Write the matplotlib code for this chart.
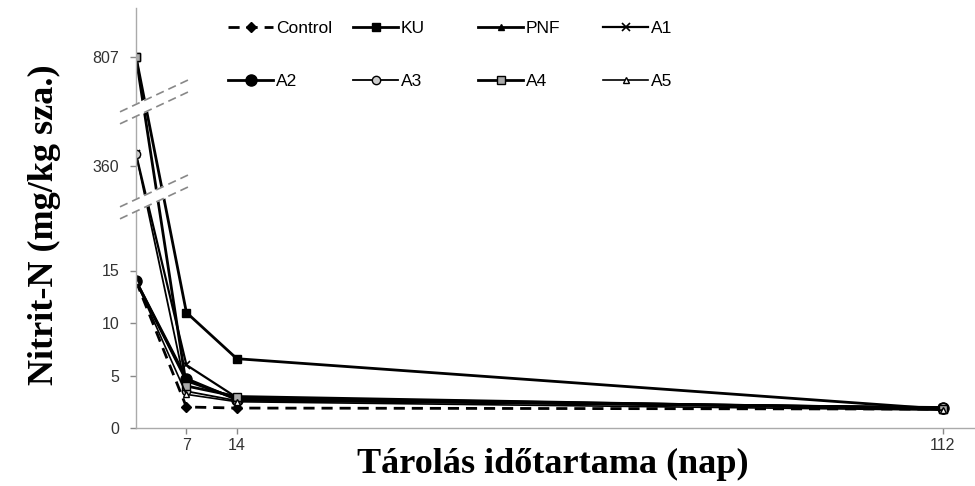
import numpy as np
import matplotlib
matplotlib.use("Agg")
import matplotlib.pyplot as plt
from matplotlib.legend import Legend

# tarolasi napok es nitrit-N ertekek (mg/kg sza.)
napok = [0, 7, 14, 112]
control = [14.0, 2.0, 1.9, 1.8]
ku = [807, 11.0, 6.6, 1.8]
pnf = [14.0, 4.5, 2.8, 1.9]
a1 = [380, 6.0, 2.9, 1.9]
a2 = [14.0, 4.7, 2.7, 1.9]
a3 = [380, 3.5, 2.6, 2.0]
a4 = [807, 4.0, 3.0, 1.8]
a5 = [14.0, 3.2, 2.5, 1.7]

x_ticks = [7, 14, 112]
y_ticks = [0, 5, 10, 15, 360, 807]

# torott y tengely: szakaszonkent linearis skala
knot_val = np.array([0, 20, 330, 420, 780, 830, 2000])
knot_pos = np.array([0, 210, 244, 298, 344, 394, 1564])

def fwd(v):
	return np.interp(v, knot_val, knot_pos)

def inv(p):
	return np.interp(p, knot_pos, knot_val)

sans = ['Liberation Sans', 'DejaVu Sans']
serif = ['Liberation Serif', 'DejaVu Serif']

fig = plt.figure(figsize=(9.75, 4.86), dpi=100)
ax = fig.add_axes([136/975, 58/486, 839/975, 420/486])
ax.set_yscale('function', functions=(fwd, inv))

lw = 2.0
series = [
	("Control", control, dict(ls=(0, (4, 2.5)), marker='D', ms=5, mfc='black', lw=lw)),
	("KU", ku, dict(ls='-', marker='s', ms=6, mfc='black', lw=lw)),
	("PNF", pnf, dict(ls='-', marker='^', ms=5, mfc='black', lw=lw)),
	("A1", a1, dict(ls='-', marker='x', ms=6, mew=1.2, lw=1.6)),
	("A2", a2, dict(ls='-', marker='o', ms=8, mfc='black', lw=lw)),
	("A3", a3, dict(ls='-', marker='o', ms=6, mfc='#cccccc', lw=1.3)),
	("A4", a4, dict(ls='-', marker='s', ms=6, mfc='#aaaaaa', lw=lw)),
	("A5", a5, dict(ls='-', marker='^', ms=5, mfc='white', lw=1.2)),
]

handles = []
for name, vals, st in series:
	h, = ax.plot(napok, vals, color='black', mec='black', label=name, **st)
	handles.append(h)

ax.set_xlim(0, 116.5)
ax.set_ylim(0, inv(420))
ax.set_xticks(x_ticks)
ax.set_yticks(y_ticks)
ax.tick_params(axis='both', colors='#888888', labelcolor='#333333', labelsize=11.5, length=4, width=1)
ax.tick_params(axis='x', pad=3)
ax.tick_params(axis='y', pad=8)
for lab in ax.get_xticklabels() + ax.get_yticklabels():
	lab.set_family(sans)
for pos in ['top', 'right']:
	ax.spines[pos].set_visible(False)
for pos in ['left', 'bottom']:
	ax.spines[pos].set_color('#aaaaaa')
	ax.spines[pos].set_linewidth(1)

# torespontok jelolese (ket parhuzamos szaggatott vonal, koztuk feher sav)
ymax = fwd(inv(420))
slope = 29 / 62 * 839 / 420
gap = 12 / 420
xs = np.array([-16 / 839, 56 / 839])
for b in [(fwd(20) + fwd(330)) / 2 + 5, (fwd(420) + fwd(780)) / 2 + 6]:
	yb = b / ymax
	ylo = yb - gap / 2 + (xs - 20 / 839) * slope
	yhi = ylo + gap
	ax.fill([xs[0], xs[1], xs[1], xs[0]], [ylo[0], ylo[1], yhi[1], yhi[0]], color='white', transform=ax.transAxes, zorder=5, clip_on=False)
	ax.plot(xs, ylo, color='#888888', ls=(0, (5, 3)), lw=1.2, transform=ax.transAxes, zorder=6, clip_on=False)
	ax.plot(xs, yhi, color='#888888', ls=(0, (5, 3)), lw=1.2, transform=ax.transAxes, zorder=6, clip_on=False)

fig.text(553/975, 1 - 464/486, "Tárolás időtartama (nap)", ha='center', va='center', fontsize=26, fontweight='bold', family=serif)
fig.text(44/975, 1 - 225/486, "Nitrit-N (mg/kg sza.)", ha='center', va='center', rotation=90, fontsize=26, fontweight='bold', family=serif)

# jelmagyarazat: negy oszlop, oszloponkent kulon
col_x = [228, 353, 478, 603]
for c in range(4):
	hs = [handles[c], handles[c + 4]]
	leg = Legend(fig, hs, [h.get_label() for h in hs], loc='upper left', bbox_to_anchor=(col_x[c]/975, 1 - 21/486),
		bbox_transform=fig.transFigure, frameon=False, prop={'family': sans, 'size': 12.5}, handlelength=2.6,
		handletextpad=0.15, labelspacing=2.15, borderpad=0, borderaxespad=0)
	fig.add_artist(leg)

fig.savefig("out.png", dpi=100)
